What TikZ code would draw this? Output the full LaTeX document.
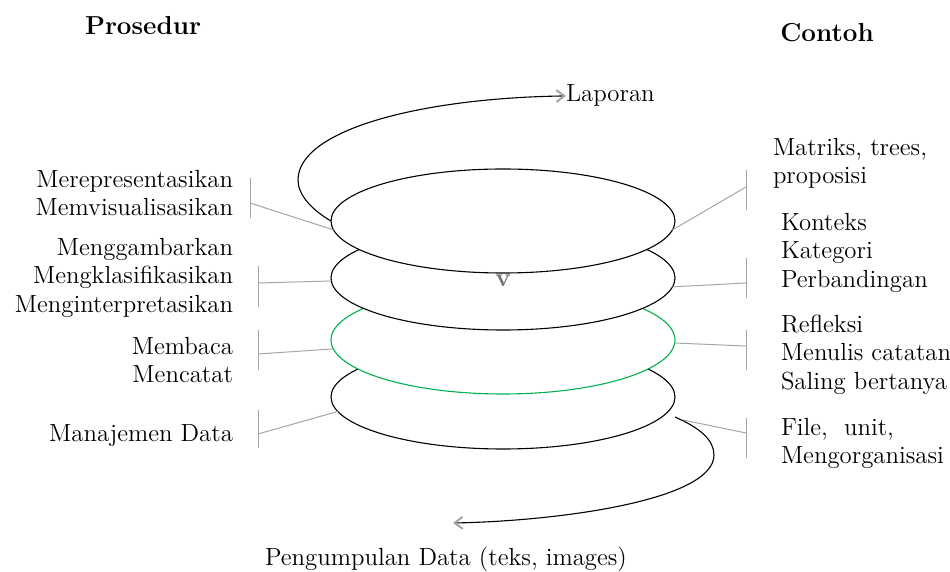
\documentclass[tikz,border=0pt]{standalone}
\usetikzlibrary{arrows.meta,shapes.geometric}
\definecolor{ringgreen}{RGB}{0,176,80}

\begin{document}
\begin{tikzpicture}[
  x=0.5pt,y=-0.5pt,
  font=\fontsize{12.4}{14.25}\selectfont,
  ring/.style={draw,ellipse,fill=white,line width=0.55pt,minimum width=172pt,minimum height=52pt,inner sep=0pt,outer sep=0pt},
  tick/.style={draw=black!35,line width=0.5pt},
  flow/.style={-{Straight Barb[color=black!35,length=4pt,width=6pt,line width=1pt]},line width=0.55pt},
  lbl/.style={inner sep=0pt,outer sep=0pt},
  head/.style={font=\fontsize{13}{15}\selectfont\bfseries,inner sep=0pt},
]
  \useasboundingbox (0,0) rectangle (950,572);

  \node[head,anchor=base] (prosedur) at (143,35) {Prosedur};
  \node[head,anchor=base] (contoh) at (827,42) {Contoh};

  % rings, bottom one first
  \node[ring] (e4) at (503,397) {};
  \node[ring,draw=ringgreen,minimum height=54pt] (e3) at (503,340) {};
  \node[ring] (e2) at (503,278) {};
  \node[ring] (e1) at (503,221) {};
  \node[text=black!55,font=\fontsize{13}{13}\selectfont\bfseries,inner sep=0pt] (mark) at (503,281) {v};

  \node[lbl,anchor=base west] (lap) at (566,102) {Laporan};
  \node[lbl,anchor=base] (kumpul) at (446,566) {Pengumpulan Data (teks, images)};

  % left side
  \node[lbl,align=right,anchor=north east] (l1) at (233,170) {Merepresentasikan\\Memvisualisasikan};
  \node[lbl,align=right,anchor=north east] (l2) at (233,238) {Menggambarkan\\Mengklasifikasikan\\Menginterpretasikan};
  \node[lbl,align=right,anchor=north east] (l3) at (233,337) {Membaca\\Mencatat};
  \node[lbl,align=right,anchor=north east] (l4) at (233,425) {Manajemen Data};

  % right side
  \node[lbl,align=left,anchor=north west] (r1) at (773,138) {Matriks, trees,\\proposisi};
  \node[lbl,align=left,anchor=north west] (r2) at (781,213) {Konteks\\Kategori\\Perbandingan};
  \node[lbl,align=left,anchor=north west] (r3) at (781,315) {Refleksi\\Menulis catatan\\Saling bertanya};
  \node[lbl,align=left,anchor=north west] (r4) at (781,418) {File,\ \ unit,\\Mengorganisasi};

  % brackets
  \coordinate (lb1a) at (250,178); \coordinate (lb1b) at (250,218); \coordinate (lb1m) at (250,203);
  \coordinate (lb2a) at (258,266); \coordinate (lb2b) at (258,307); \coordinate (lb2m) at (258,283);
  \coordinate (lb3a) at (258,330); \coordinate (lb3b) at (258,370); \coordinate (lb3m) at (258,354);
  \coordinate (lb4a) at (258,410); \coordinate (lb4b) at (258,448); \coordinate (lb4m) at (258,434);
  \coordinate (rb1a) at (746,170); \coordinate (rb1b) at (746,210); \coordinate (rb1m) at (746,187);
  \coordinate (rb2a) at (746,258); \coordinate (rb2b) at (746,298); \coordinate (rb2m) at (746,283);
  \coordinate (rb3a) at (746,330); \coordinate (rb3b) at (746,370); \coordinate (rb3m) at (746,346);
  \coordinate (rb4a) at (746,418); \coordinate (rb4b) at (746,458); \coordinate (rb4m) at (746,433);
  \coordinate (r4s) at (683,420);

  \draw[tick] (lb1a) -- (lb1b); \draw[tick] (lb1m) -- (e1.183);
  \draw[tick] (lb2a) -- (lb2b); \draw[tick] (lb2m) -- (e2.181);
  \draw[tick] (lb3a) -- (lb3b); \draw[tick] (lb3m) -- (e3.183);
  \draw[tick] (lb4a) -- (lb4b); \draw[tick] (lb4m) -- (e4.185);
  \draw[tick] (rb1a) -- (rb1b); \draw[tick] (rb1m) -- (e1.-3);
  \draw[tick] (rb2a) -- (rb2b); \draw[tick] (rb2m) -- (e2.-3);
  \draw[tick] (rb3a) -- (rb3b); \draw[tick] (rb3m) -- (e3.-1);
  \draw[tick] (rb4a) -- (rb4b); \draw[tick] (rb4m) -- (r4s);

  % spiral ends
  \coordinate (bstart) at (675,417);
  \coordinate (bend) at (453,523);
  \draw[flow] (e1.west) .. controls (312,210) and (298,195) .. (298,180)
    .. controls (298,130) and (420,98) .. (lap.west);
  \draw[flow] (bstart) .. controls (700,428) and (714,440) .. (714,455)
    .. controls (714,500) and (560,521) .. (bend);
\end{tikzpicture}
\end{document}
